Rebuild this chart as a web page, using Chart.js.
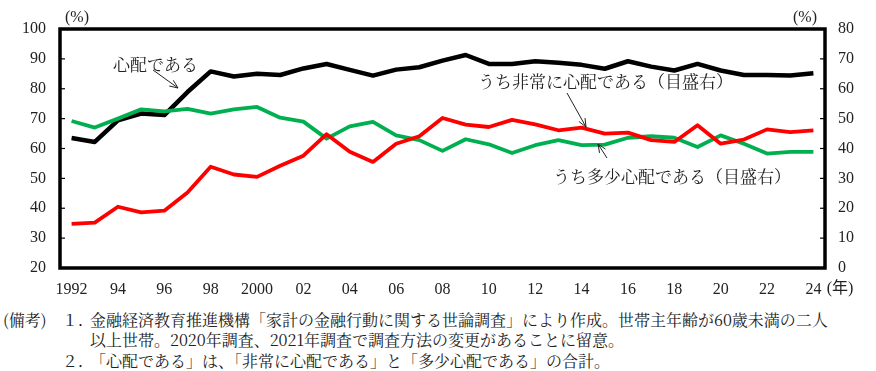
<!DOCTYPE html>
<html lang="ja">
<head>
<meta charset="UTF-8">
<title>心配である</title>
<script src="https://cdn.jsdelivr.net/npm/chart.js"></script>
<style>
  body {
    margin: 0;
    background: #fff;
    width: 876px;
    height: 371px;
    overflow: hidden;
    position: relative;
    font-family: "Noto Serif CJK JP", "Noto Sans CJK JP", sans-serif;
    color: #222;
  }
  #wrap { position: absolute; left: 0; top: 0; width: 876px; height: 305px; }
  .note { position: absolute; font-size: 16px; line-height: 20px; white-space: nowrap; }
</style>
</head>
<body>
<div id="wrap"><canvas id="chart" width="876" height="305"></canvas></div>
<div class="note" style="left:3px; top:310px">(備考)</div>
<div class="note" style="left:62px; top:310px">１．</div>
<div class="note" style="left:90px; top:310px">金融経済教育推進機構「家計の金融行動に関する世論調査」により作成。世帯主年齢が60歳未満の二人</div>
<div class="note" style="left:90px; top:330px">以上世帯。2020年調査、2021年調査で調査方法の変更があることに留意。</div>
<div class="note" style="left:62px; top:351px">２．</div>
<div class="note" style="left:90px; top:351px">「心配である」は、「非常に心配である」と「多少心配である」の合計。</div>

<script>
  // 年
  const years = ['1992','1993','1994','1995','1996','1997','1998','1999','2000','2001','2002',
    '2003','2004','2005','2006','2007','2008','2009','2010','2011','2012','2013','2014',
    '2015','2016','2017','2018','2019','2020','2021','2022','2023','2024'];
  const yearTicks = ['1992','','94','','96','','98','','2000','','02','','04','','06','','08',
    '','10','','12','','14','','16','','18','','20','','22','','24'];

  // 心配である（目盛左）
  const worried = [63.5, 62.2, 69.4, 71.7, 71.2, 78.9, 85.8, 84.1, 85.0, 84.6, 86.8,
    88.3, 86.3, 84.4, 86.4, 87.2, 89.4, 91.3, 88.3, 88.3, 89.2, 88.7, 88.0,
    86.7, 89.2, 87.4, 86.1, 88.3, 86.1, 84.6, 84.6, 84.4, 85.2];
  // うち非常に心配である（目盛右）
  const veryWorried = [14.8, 15.2, 20.5, 18.6, 19.2, 25.3, 33.9, 31.3, 30.5, 34.2, 37.6,
    44.8, 38.9, 35.5, 41.6, 44.1, 50.2, 48.0, 47.2, 49.6, 48.1, 46.1, 47.0,
    45.0, 45.3, 42.8, 42.2, 47.8, 41.6, 43.0, 46.4, 45.5, 46.1];
  // うち多少心配である（目盛右）
  const somewhatWorried = [49.2, 47.0, 50.0, 53.1, 52.4, 53.3, 51.7, 53.1, 53.9, 50.3, 49.0,
    43.3, 47.4, 48.9, 44.4, 42.8, 39.2, 43.1, 41.4, 38.5, 41.1, 42.8, 41.1,
    41.3, 43.6, 44.1, 43.6, 40.5, 44.4, 41.6, 38.3, 38.9, 38.9];

  const leftRange = [20, 100];
  const rightRange = [0, 80];

  const numFont = '16px "Liberation Serif", "Noto Sans CJK JP", serif';
  const jpFont = '17px "Noto Serif CJK JP", "Noto Sans CJK JP", sans-serif';

  function arrow(ctx, x1, y1, x2, y2) {
    const a = Math.atan2(y2 - y1, x2 - x1);
    const h = 9;
    ctx.beginPath();
    ctx.moveTo(x1, y1);
    ctx.lineTo(x2, y2);
    ctx.moveTo(x2 - h * Math.cos(a - 0.4), y2 - h * Math.sin(a - 0.4));
    ctx.lineTo(x2, y2);
    ctx.lineTo(x2 - h * Math.cos(a + 0.4), y2 - h * Math.sin(a + 0.4));
    ctx.stroke();
  }

  // 枠、内向き目盛、注記
  const decor = {
    id: 'decor',
    afterDatasetsDraw(chart) {
      const ctx = chart.ctx;
      const a = chart.chartArea;
      ctx.save();
      ctx.strokeStyle = '#000';
      ctx.lineWidth = 3.5;
      ctx.strokeRect(a.left, a.top, a.right - a.left, a.bottom - a.top);

      ctx.lineWidth = 1.2;
      const y = chart.scales.y, y1 = chart.scales.y1;
      y.ticks.forEach(t => {
        const p = y.getPixelForValue(t.value);
        ctx.beginPath(); ctx.moveTo(a.left, p); ctx.lineTo(a.left + 5, p); ctx.stroke();
      });
      y1.ticks.forEach(t => {
        const p = y1.getPixelForValue(t.value);
        ctx.beginPath(); ctx.moveTo(a.right, p); ctx.lineTo(a.right - 5, p); ctx.stroke();
      });

      ctx.fillStyle = '#222';
      ctx.font = numFont;
      ctx.textAlign = 'center';
      ctx.textBaseline = 'middle';
      ctx.fillText('(%)', 77, 18);
      ctx.fillText('(%)', 805, 18);
      ctx.fillText('(年)', 840, 289);

      ctx.font = jpFont;
      ctx.textAlign = 'left';
      ctx.fillText('心配である', 113, 65);
      ctx.fillText('うち非常に心配である（目盛右）', 478, 82);
      ctx.fillText('うち多少心配である（目盛右）', 553, 177);

      ctx.lineWidth = 1;
      ctx.strokeStyle = '#222';
      arrow(ctx, 153, 70, 178, 88);
      arrow(ctx, 567, 93, 586, 127);
      arrow(ctx, 607, 158, 598, 144);
      ctx.restore();
    }
  };

  new Chart(document.getElementById('chart'), {
    type: 'line',
    data: {
      labels: years,
      datasets: [
        { label: '心配である', data: worried, yAxisID: 'y', borderColor: '#000000',
          borderWidth: 4.5, order: 3 },
        { label: 'うち非常に心配である', data: veryWorried, yAxisID: 'y1', borderColor: '#FF0000',
          borderWidth: 3.8, order: 1 },
        { label: 'うち多少心配である', data: somewhatWorried, yAxisID: 'y1', borderColor: '#00B050',
          borderWidth: 3.8, order: 2 }
      ]
    },
    options: {
      responsive: false,
      animation: false,
      layout: { padding: { top: 29, left: 0, right: 0, bottom: 0 } },
      elements: {
        point: { radius: 0 },
        line: { tension: 0, borderJoinStyle: 'round', borderCapStyle: 'butt' }
      },
      plugins: { legend: { display: false }, tooltip: { enabled: false } },
      scales: {
        x: {
          type: 'category',
          offset: true,
          grid: { display: false, drawTicks: false },
          border: { display: false },
          ticks: {
            autoSkip: false, maxRotation: 0, padding: 12,
            color: '#222', font: { family: '"Liberation Serif", serif', size: 16 },
            callback: (v, i) => yearTicks[i]
          },
          afterFit: s => { s.height = 37; }
        },
        y: {
          position: 'left',
          min: leftRange[0], max: leftRange[1],
          grid: { display: false, drawTicks: false },
          border: { display: false },
          ticks: { stepSize: 10, padding: 14, color: '#222',
            font: { family: '"Liberation Serif", serif', size: 16 } },
          afterFit: s => { s.width = 60; }
        },
        y1: {
          position: 'right',
          min: rightRange[0], max: rightRange[1],
          grid: { display: false, drawTicks: false },
          border: { display: false },
          ticks: { stepSize: 10, padding: 13, color: '#222',
            font: { family: '"Liberation Serif", serif', size: 16 } },
          afterFit: s => { s.width = 51; }
        }
      }
    },
    plugins: [decor]
  });
</script>
</body>
</html>
